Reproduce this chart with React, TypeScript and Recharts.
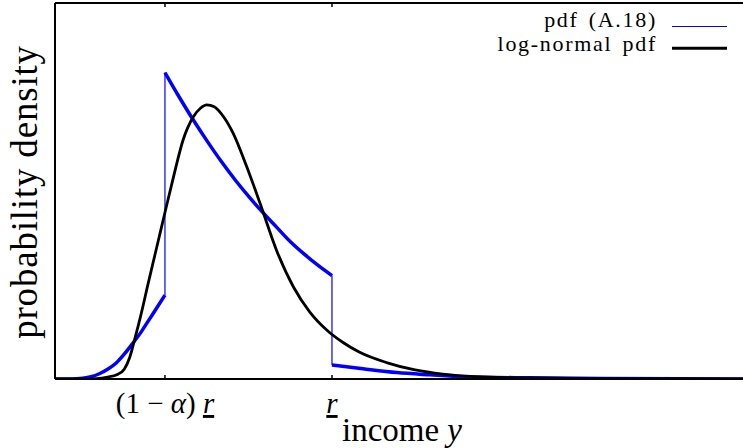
import { LineChart, Line, XAxis, YAxis, Legend } from "recharts";

const FONT = '"Liberation Serif", "Times New Roman", serif';

// income in units of r, density on an arbitrary 0..1 scale
const X_MAX = 2.484;
const tickValues = [0.397, 1];
const tickLabels = ["(1 − α) r", "r"];
const seriesNames = ["pdf (A.18)", "log-normal pdf"];

// pdf (A.18): three pieces, jumps at (1 - alpha) r and r
const blueLowX = [0, 0.06, 0.1, 0.13, 0.16, 0.19, 0.22, 0.25, 0.28, 0.31, 0.34, 0.37, 0.397];
const blueLowY = [0, 0, 0.002, 0.006, 0.014, 0.026, 0.042, 0.066, 0.094, 0.124, 0.158, 0.192, 0.223];
const blueMidX = [0.397, 0.45, 0.5, 0.55, 0.6, 0.65, 0.7, 0.75, 0.8, 0.85, 0.9, 0.95, 1];
const blueMidY = [0.815, 0.748, 0.688, 0.632, 0.579, 0.53, 0.485, 0.443, 0.404, 0.365, 0.332, 0.302, 0.275];
const blueHighX = [1, 1.112, 1.234, 1.354, 1.473, 1.715, 1.97, 2.25, 2.484];
const blueHighY = [0.037, 0.027, 0.017, 0.011, 0.006, 0.003, 0.0015, 0.0005, 0];

// log-normal pdf
const blackX = [
  0, 0.1, 0.15, 0.19, 0.225, 0.25, 0.27, 0.29, 0.31, 0.336, 0.372, 0.4, 0.427,
  0.463, 0.499, 0.525, 0.548, 0.575, 0.6, 0.643, 0.692, 0.74, 0.8, 0.86, 0.92,
  0.98, 1.04, 1.1, 1.2, 1.3, 1.4, 1.5, 1.6, 1.75, 2.0, 2.484,
];
const blackY = [
  0, 0, 0.001, 0.005, 0.012, 0.026, 0.058, 0.112, 0.17, 0.253, 0.365, 0.452,
  0.535, 0.637, 0.697, 0.72, 0.729, 0.724, 0.706, 0.654, 0.565, 0.468, 0.342,
  0.246, 0.178, 0.131, 0.097, 0.071, 0.043, 0.024, 0.013, 0.007, 0.004, 0.002,
  0.0008, 0,
];

const zip = (xs: number[], ys: number[]) => xs.map((x, i) => ({ x, y: ys[i] }));

const blueLow = zip(blueLowX, blueLowY);
const blueMid = zip(blueMidX, blueMidY);
const blueHigh = zip(blueHighX, blueHighY);
const jumpLow = [blueLow[blueLow.length - 1], blueMid[0]];
const jumpHigh = [blueMid[blueMid.length - 1], blueHigh[0]];
const lognormal = zip(blackX, blackY);

const BLUE = "#0000ff";

// alpha and r in italics, r underlined (lower bound)
function MathLabel({ text }: { text: string }) {
  return (
    <>
      {text.split("").map((ch, i) => {
        if (ch === "α") return <tspan key={i} fontStyle="italic">α</tspan>;
        if (ch === "r")
          return (
            <tspan key={i} fontStyle="italic" textDecoration="underline">
              r
            </tspan>
          );
        return <tspan key={i}>{ch}</tspan>;
      })}
    </>
  );
}

const BottomTick = (props: any) => {
  const { x, y, payload } = props;
  const idx = tickValues.indexOf(payload.value);
  return (
    <g>
      <line x1={x} x2={x} y1={y} y2={y - 4} stroke="#000" strokeWidth={1.5} />
      <text x={x} y={y + 34} textAnchor="middle" fontFamily={FONT} fontSize={29} fill="#000">
        <MathLabel text={tickLabels[idx] ?? ""} />
      </text>
    </g>
  );
};

const TopTick = (props: any) => {
  const { x, y } = props;
  return <line x1={x} x2={x} y1={y} y2={y + 4} stroke="#000" strokeWidth={1.5} />;
};

const legendText = {
  textAnchor: "end" as const,
  fontFamily: FONT,
  fontSize: 22,
  letterSpacing: 1.7,
  wordSpacing: 3,
  fill: "#000",
};

const renderLegend = () => (
  <svg width={743} height={60} style={{ display: "block" }}>
    <text x={657} y={27} {...legendText}>
      {seriesNames[0]}
    </text>
    <line x1={672} x2={727} y1={26.5} y2={26.5} stroke={BLUE} strokeWidth={1.2} />
    <text x={657} y={51} {...legendText}>
      {seriesNames[1]}
    </text>
    <line x1={672} x2={727} y1={48.3} y2={48.3} stroke="#000" strokeWidth={3} />
  </svg>
);

export default function App() {
  return (
    <div
      style={{
        position: "absolute",
        top: 0,
        left: 0,
        width: 743,
        height: 448,
        overflow: "hidden",
        background: "#fff",
      }}
    >
      <LineChart width={743} height={448} margin={{ top: 2, right: 0, bottom: 0, left: 0 }}>
        <XAxis
          xAxisId="top"
          orientation="top"
          type="number"
          dataKey="x"
          domain={[0, X_MAX]}
          allowDataOverflow
          ticks={tickValues}
          height={1}
          tickSize={0}
          tickMargin={0}
          tickLine={false}
          tick={TopTick}
          axisLine={{ stroke: "#000", strokeWidth: 2 }}
        />
        <XAxis
          type="number"
          dataKey="x"
          domain={[0, X_MAX]}
          allowDataOverflow
          ticks={tickValues}
          height={69}
          tickSize={0}
          tickMargin={0}
          tickLine={false}
          tick={BottomTick}
          axisLine={{ stroke: "#000", strokeWidth: 2 }}
          label={{
            content: () => (
              <text x={402} y={441} textAnchor="middle" fontFamily={FONT} fontSize={33} fill="#000">
                income <tspan fontStyle="italic">y</tspan>
              </text>
            ),
          }}
        />
        <YAxis
          type="number"
          domain={[0, 1]}
          allowDataOverflow
          width={55}
          tick={false}
          tickLine={false}
          axisLine={{ stroke: "#000", strokeWidth: 2 }}
          label={{
            content: () => (
              <text
                x={37}
                y={192}
                transform="rotate(-90 37 192)"
                textAnchor="middle"
                fontFamily={FONT}
                fontSize={37}
                letterSpacing={0.8}
                fill="#000"
              >
                probability density
              </text>
            ),
          }}
        />
        <Legend
          layout="horizontal"
          verticalAlign="middle"
          align="center"
          content={renderLegend}
          wrapperStyle={{ top: 0, left: 0, width: 743, height: 60 }}
        />
        <Line data={jumpLow} dataKey="y" type="linear" stroke={BLUE} strokeWidth={1.2} dot={false} legendType="none" isAnimationActive={false} />
        <Line data={jumpHigh} dataKey="y" type="linear" stroke={BLUE} strokeWidth={1.2} dot={false} legendType="none" isAnimationActive={false} />
        <Line data={blueLow} dataKey="y" type="monotone" stroke={BLUE} strokeWidth={3.5} dot={false} isAnimationActive={false} />
        <Line data={blueMid} dataKey="y" type="monotone" stroke={BLUE} strokeWidth={3.5} dot={false} legendType="none" isAnimationActive={false} />
        <Line data={blueHigh} dataKey="y" type="monotone" stroke={BLUE} strokeWidth={3.5} dot={false} legendType="none" isAnimationActive={false} />
        <Line data={lognormal} dataKey="y" type="monotone" stroke="#000" strokeWidth={2.8} dot={false} isAnimationActive={false} />
      </LineChart>
    </div>
  );
}
